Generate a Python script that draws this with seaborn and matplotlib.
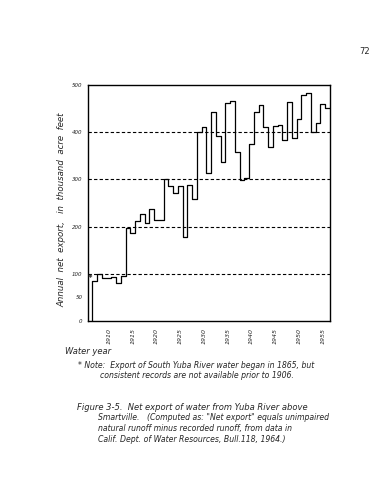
import numpy as np
import pandas as pd
import matplotlib
matplotlib.use("Agg")
import matplotlib.pyplot as plt
import seaborn as sns

# water years and net export (thousand acre feet)
years = np.arange(1907, 1957)
net_export = [85, 99, 91, 91, 94, 80, 96,
              196, 187, 211, 227, 207, 237, 214, 213,
              300, 286, 272, 286, 177, 288, 258,
              400, 412, 313, 443, 391, 337, 461, 467, 358, 299, 302,
              375, 443, 458, 412, 369, 413, 415, 383, 463, 387, 429,
              479, 484, 401, 420, 460, 451]
y_ticks = [0, 50, 100, 200, 300, 400, 500]
grid_levels = [100, 200, 300, 400]
x_ticks = [1910, 1915, 1920, 1925, 1930, 1935, 1940, 1945, 1950, 1955]

# step edges: each water year spans year-0.5 .. year+0.5
edges = np.append(years - 0.5, years[-1] + 0.5)
df = pd.DataFrame({"x": edges, "y": net_export + [net_export[-1]]})

sns.set_style("white")
plt.rcParams['font.family'] = ['DejaVu Sans']

fig = plt.figure(figsize=(3.87, 5.0), dpi=100)
W, H = 387, 500
ax = fig.add_axes([88 / W, 1 - 321 / H, (330 - 88) / W, (321 - 85) / H])

sns.lineplot(data=df, x="x", y="y", ax=ax, color="black", lw=0.9,
             drawstyle="steps-post", sort=False, estimator=None)
ax.vlines(edges[0], 0, net_export[0], color="black", lw=0.9)
ax.text(edges[0] - 0.4, net_export[0] + 4, "*", ha="center", va="center",
        fontsize=6, fontweight="bold")

for lev in grid_levels:
    ax.axhline(lev, color="black", lw=0.8, ls=(0, (3, 2)))

ax.set_xlim(1905.6, 1956.5)
ax.set_ylim(0, 500)
ax.set_yticks(y_ticks)
ax.set_yticklabels([str(v) for v in y_ticks], fontsize=4, style="italic")
ax.set_xticks(x_ticks)
ax.set_xticklabels([str(v) for v in x_ticks], rotation=90, fontsize=4.5,
                   style="italic")
ax.tick_params(axis="y", direction="out", length=3, width=0.6, pad=1)
ax.tick_params(axis="x", length=0, pad=5)
ax.set_xlabel("")
ax.set_ylabel("")
for s in ax.spines.values():
    s.set_linewidth(1.0)
    s.set_color("black")

fig.text(62 / W, 1 - 210 / H, "Annual  net  export,   in  thousand  acre  feet",
         rotation=90, ha="center", va="center", fontsize=6.2, style="italic")
fig.text(65 / W, 1 - 352 / H, "Water year", fontsize=6, style="italic",
         va="center")
fig.text(78 / W, 1 - 365 / H,
         "* Note:  Export of South Yuba River water began in 1865, but",
         fontsize=5.6, style="italic", va="center")
fig.text(100 / W, 1 - 376 / H,
         "consistent records are not available prior to 1906.",
         fontsize=5.6, style="italic", va="center")

fig.text(77 / W, 1 - 407 / H,
         "Figure 3-5.  Net export of water from Yuba River above",
         fontsize=6, style="italic", va="center")
fig.text(98 / W, 1 - 418 / H,
         "Smartville.   (Computed as: \"Net export\" equals unimpaired",
         fontsize=5.6, style="italic", va="center")
fig.text(98 / W, 1 - 429 / H,
         "natural runoff minus recorded runoff, from data in",
         fontsize=5.6, style="italic", va="center")
fig.text(98 / W, 1 - 440 / H,
         "Calif. Dept. of Water Resources, Bull.118, 1964.)",
         fontsize=5.6, style="italic", va="center")

fig.text(365 / W, 1 - 52 / H, "72", fontsize=6, ha="center", va="center")

fig.savefig("out.png", dpi=100, facecolor="white")
